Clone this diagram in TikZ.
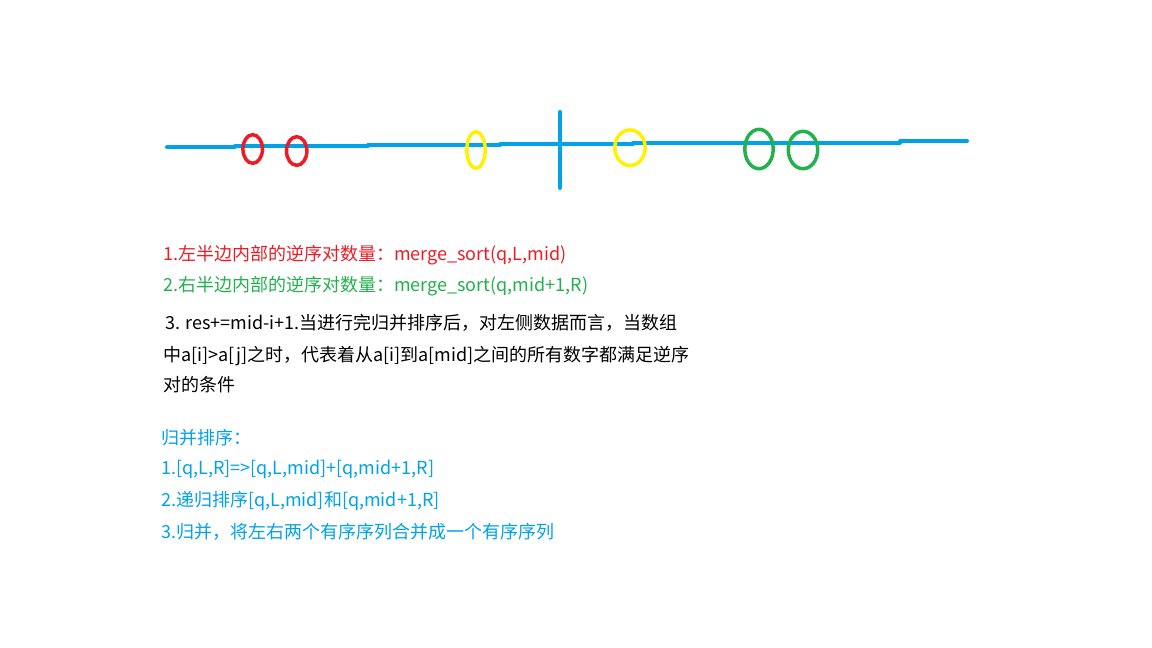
\documentclass[tikz,border=0pt]{standalone}
\usepackage{fontspec}
\setmainfont{Noto Sans CJK SC}
\definecolor{pred}{RGB}{237,28,36}
\definecolor{pgreen}{RGB}{34,177,76}
\definecolor{pyellow}{RGB}{255,242,0}
\definecolor{pblue}{RGB}{0,162,232}
\begin{document}
\begin{tikzpicture}[x=1pt,y=-1pt,
  axis/.style={draw=pblue,line width=4pt,line cap=round},
  ring/.style={line width=3.5pt},
  txt/.style={anchor=base west,inner sep=0pt,font=\fontsize{18}{22}\selectfont},
  txtb/.style={anchor=base west,inner sep=0pt,font=\fontsize{18}{22}\selectfont,text=pblue}]
\useasboundingbox[fill=white] (0,0) rectangle (1152,648);
% axis
\draw[axis] (167,147.3) -- (235,147.3);
\draw[axis] (235,146.3) -- (368,146.3);
\draw[axis] (368,145.3) -- (500,145.3);
\draw[axis] (500,144.3) -- (633,144.3);
\draw[axis] (633,142.7) -- (900,142.7);
\draw[axis] (900,141.3) -- (967,141.3);
\draw[axis] (560,112) -- (560,188);
% rings
\draw[ring,pred] (252.7,149) ellipse [x radius=9.8,y radius=14.3];
\draw[ring,pred] (296.7,151) ellipse [x radius=10.2,y radius=14.3];
\draw[ring,pyellow] (476,150) ellipse [x radius=9.2,y radius=18.3];
\draw[ring,pyellow] (630,147.7) ellipse [x radius=15.2,y radius=17.8];
\draw[ring,pgreen] (759,149) ellipse [x radius=14.2,y radius=19.7];
\draw[ring,pgreen] (803,150) ellipse [x radius=14.7,y radius=18.7];
% text
\node[txt,text=pred] (t1) at (163,260) {1.左半边内部的逆序对数量：merge\_sort(q,L,mid)};
\node[txt,text=pgreen] (t2) at (163,291) {2.右半边内部的逆序对数量：merge\_sort(q,mid+1,R)};
\node[txt] (t3) at (165,329) {3. res+=mid-i+1.当进行完归并排序后，对左侧数据而言，当数组};
\node[txt] (t4) at (163,361) {中a[i]>a[j]之时，代表着从a[i]到a[mid]之间的所有数字都满足逆序};
\node[txt] (t5) at (163,391) {对的条件};
\node[txtb] (b0) at (161,444) {归并排序：};
\node[txtb] (b1) at (161,474) {1.[q,L,R]=>[q,L,mid]+[q,mid+1,R]};
\node[txtb] (b2) at (161,506) {2.递归排序[q,L,mid]和[q,mid+1,R]};
\node[txtb] (b3) at (161,538) {3.归并，将左右两个有序序列合并成一个有序序列};
\end{tikzpicture}
\end{document}
